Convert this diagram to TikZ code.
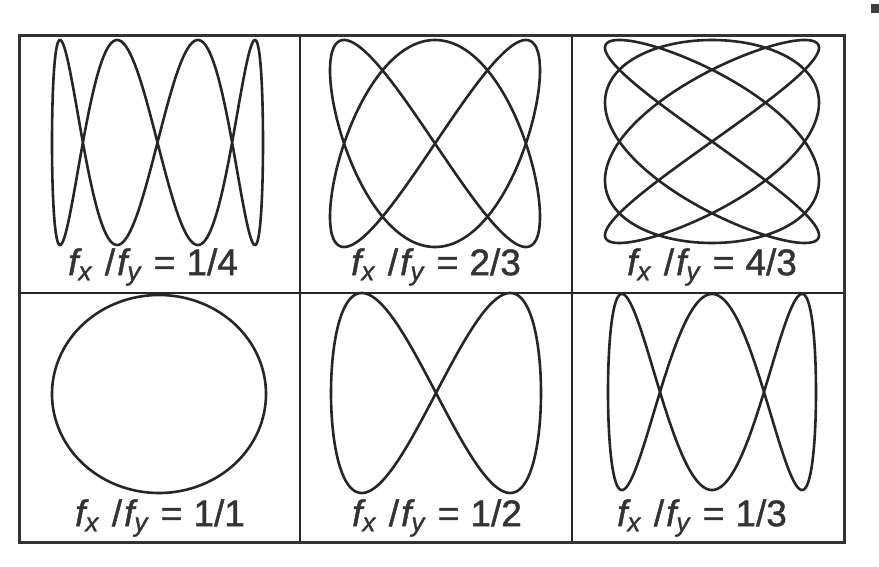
\documentclass[tikz,border=0pt]{standalone}
\usepackage{fontspec}
\setmainfont{Liberation Sans}
\newfontfamily\ratiofont[FakeBold=1.2]{Liberation Sans}
\usepackage{tikz}

\newcommand{\ratiotext}[2]{{\itshape f}\textsubscript{\itshape x}\hspace{13pt}/\hspace{2pt}{\itshape f}\textsubscript{\itshape y}\hspace{13pt}=\hspace{11pt}#1/#2}

\begin{document}
\begin{tikzpicture}[x=1pt,y=-1pt,
  grid/.style={line width=2.4pt, black!85},
  frame/.style={line width=3pt, black!80},
  curve/.style={line width=2.6pt, black!85, line join=round, samples=600, domain=0:360},
  ratio/.style={font=\ratiofont\fontsize{37}{42}\selectfont, text=black!80, inner sep=0pt}]
\useasboundingbox (0,0) rectangle (879,567);

% table
\draw[frame] (19,36) rectangle (844,542);
\draw[grid] (300,36) -- (300,542);
\draw[grid] (572,36) -- (572,542);
\draw[grid] (19,293) -- (844,293);
\fill[black!75] (871,4) rectangle (879,13);

% top row
\draw[curve] plot ({157.5+105.5*sin(\x)},{142.5+102.5*sin(4*\x)});
\draw[curve] plot ({435+105*sin(2*\x)},{143.5+103.5*cos(3*\x)});
\draw[curve] plot ({712+107*cos(4*\x)},{141.5+101.5*cos(3*\x+22.5)});
\node[ratio] (r14) at (153,267) {\ratiotext{1}{4}};
\node[ratio] (r23) at (436,267) {\ratiotext{2}{3}};
\node[ratio] (r43) at (712,267) {\ratiotext{4}{3}};

% bottom row
\draw[curve] plot ({159+107*sin(\x)},{394+99*cos(\x)});
\draw[curve] plot ({436+105*sin(\x)},{393+100*sin(2*\x)});
\draw[curve] plot ({712+104*sin(\x)},{392+98*cos(3*\x)});
\node[ratio] (r11) at (160,518) {\ratiotext{1}{1}};
\node[ratio] (r12) at (437,518) {\ratiotext{1}{2}};
\node[ratio] (r13) at (702,518) {\ratiotext{1}{3}};
\end{tikzpicture}
\end{document}
